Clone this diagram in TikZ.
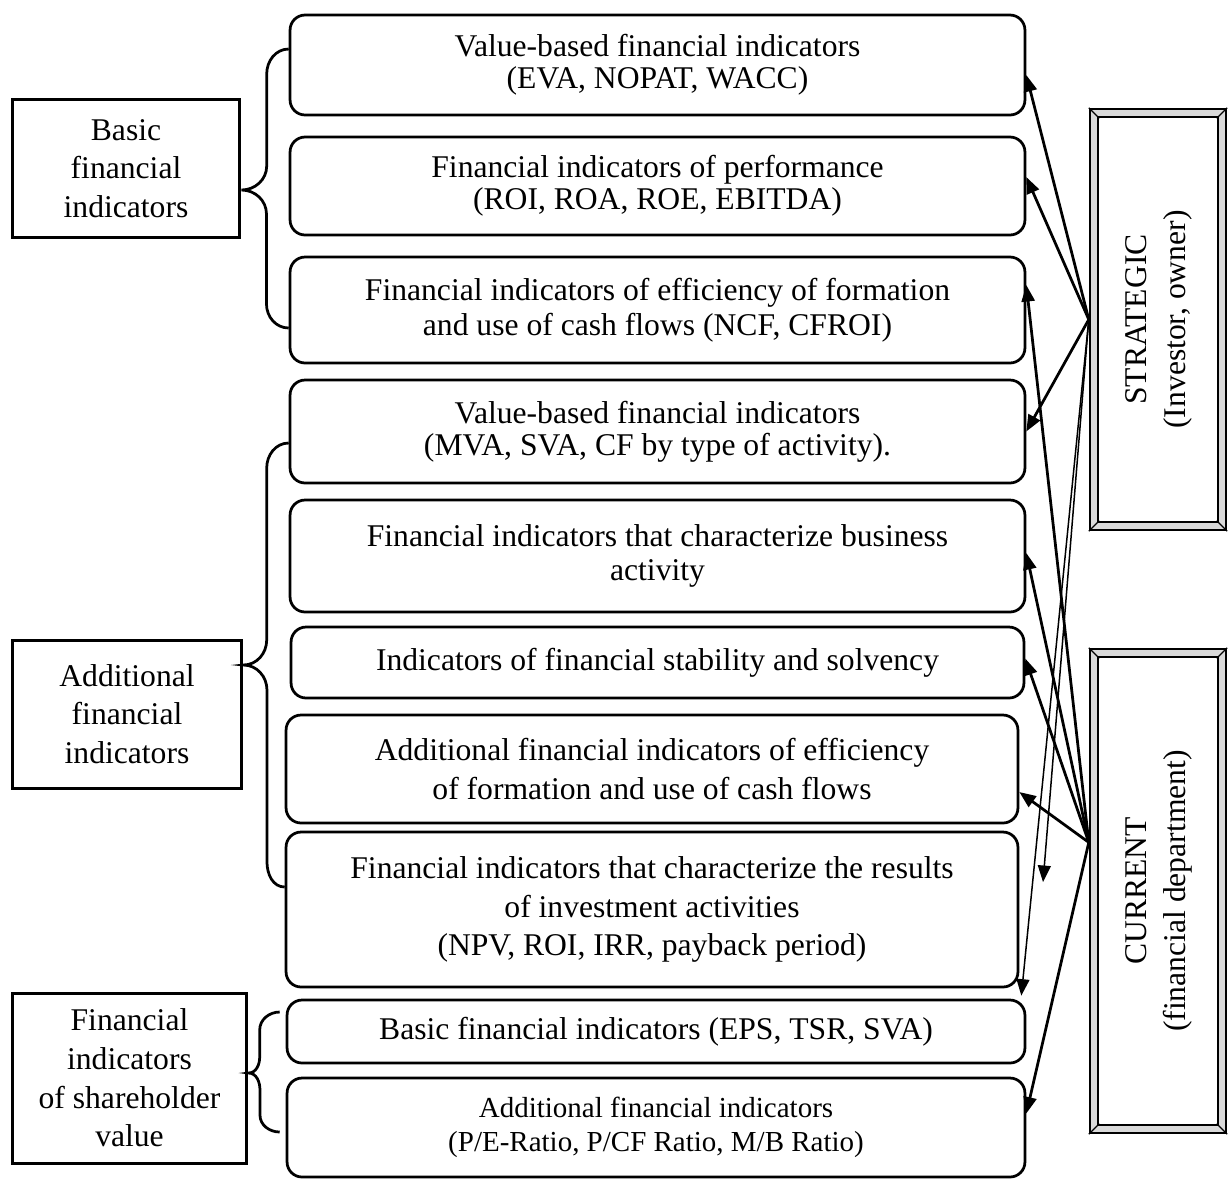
\documentclass[tikz,border=0pt]{standalone}
\usepackage{fontspec}
\setmainfont{Liberation Serif}
\usepackage{tikz}
\usetikzlibrary{arrows.meta,positioning,calc}

\begin{document}
\begin{tikzpicture}[
  x=0.02cm, y=-0.02cm,
  ind/.style={draw, line width=0.055cm, rectangle, rounded corners=0.3cm, align=center, font=\fontsize{18}{22}\selectfont},
  grp/.style={draw, line width=0.06cm, rectangle, align=center, font=\fontsize{18}{22}\selectfont},
  lvl/.style={draw, line width=0.05cm, double=gray!30, double distance=0.11cm, rectangle, minimum width=2.56cm, outer sep=0.105cm, font=\fontsize{18}{22}\selectfont},
  arr/.style={-{Triangle[length=0.33cm,width=0.26cm]}, line width=0.055cm},
  arrthin/.style={arr, line width=0.03cm},
  brc/.style={line width=0.055cm}
]

\useasboundingbox (0,0) rectangle (1229,1178);

\node[grp, minimum width=4.56cm, minimum height=2.78cm] (basic) at (126,168.5) {Basic\\financial\\indicators};

\node[grp, minimum width=4.6cm, minimum height=2.96cm] (addl) at (127,714) {Additional\\financial\\indicators};

\node[grp, minimum width=4.7cm, minimum height=3.4cm] (share) at (129.5,1078) {Financial\\indicators\\of shareholder\\value};

\node[ind, minimum width=14.7cm, minimum height=2cm, font=\fontsize{18}{18}\selectfont] (v1) at (657.5,65) {Value-based financial indicators\\(EVA, NOPAT, WACC)};

\node[ind, minimum width=14.7cm, minimum height=1.96cm, font=\fontsize{18}{18}\selectfont] (v2) at (657.5,186) {Financial indicators of performance\\(ROI, ROA, ROE, EBITDA)};

\node[ind, minimum width=14.7cm, minimum height=2.12cm, font=\fontsize{18}{20}\selectfont] (v3) at (657.5,310) {Financial indicators of efficiency of formation\\and use of cash flows (NCF, CFROI)};

\node[ind, minimum width=14.7cm, minimum height=2.06cm, font=\fontsize{18}{18}\selectfont] (v4) at (657.5,431.5) {Value-based financial indicators\\(MVA, SVA, CF by type of activity).};

\node[ind, minimum width=14.7cm, minimum height=2.24cm, font=\fontsize{18}{19}\selectfont] (v5) at (657.5,556) {Financial indicators that characterize business\\activity};

\node[ind, minimum width=14.66cm, minimum height=1.42cm] (v6) at (657.5,662.5) {Indicators of financial stability and solvency};

\node[ind, minimum width=14.64cm, minimum height=2.16cm] (v7) at (652,769) {Additional financial indicators of efficiency\\of formation and use of cash flows};

\node[ind, minimum width=14.64cm, minimum height=3.1cm] (v8) at (652,909.5) {Financial indicators that characterize the results\\of investment activities\\(NPV, ROI, IRR, payback period)};

\node[ind, minimum width=14.76cm, minimum height=1.26cm] (v9) at (656,1031.5) {Basic financial indicators (EPS, TSR, SVA)};

\node[ind, minimum width=14.76cm, minimum height=1.98cm, font=\fontsize{16.5}{19.5}\selectfont] (v10) at (656,1127.5) {Additional financial indicators\\(P/E-Ratio, P/CF Ratio, M/B Ratio)};

\node[lvl, minimum height=8.26cm] (strat) at (1158,319.5) {\rotatebox{90}{\begin{tabular}{@{}c@{}}STRATEGIC\\(Investor, owner)\end{tabular}}};

\node[lvl, minimum height=9.52cm] (curr) at (1158,891) {\rotatebox{90}{\begin{tabular}{@{}c@{}}CURRENT\\(financial department)\end{tabular}}};

\foreach \c/\sx/\sy in {north west/1/1, north east/-1/1, south west/1/-1, south east/-1/-1} {
  \draw[line width=0.025cm] (strat.\c) -- ++(10.5*\sx,10.5*\sy);
  \draw[line width=0.025cm] (curr.\c) -- ++(10.5*\sx,10.5*\sy);
}

\coordinate (chub) at ($(curr.north west)!0.4!(curr.south west)$);
\coordinate (loose) at (1043,882);

\draw[brc] ($(v1.west)+(0,-16)$) to[out=180,in=90] ++(-22,25) -- ++(0,92) to[out=-90,in=0] ($(basic.east)+(0,21.5)$) to[out=0,in=90] ++(25,24) -- ++(0,90) to[out=-90,in=180] ($(v3.west)+(0,18)$);

\draw[brc] ($(v4.west)+(0,11.5)$) to[out=180,in=90] ++(-22,25) -- ++(0,172) to[out=-90,in=0] ($(addl.east)+(0,-49)$) to[out=0,in=90] ++(23.5,25) -- ++(0,172) to[out=-90,in=180] ($(v8.west)+(0,-22.5)$);

\draw[brc] ($(v9.west)+(-6,-19.5)$) to[out=180,in=90] ++(-20,18) -- ++(0,27) to[out=-90,in=0] ($(share.east)+(0,-5)$) to[out=0,in=90] ++(11.5,17) -- ++(0,25) to[out=-90,in=180] ($(v10.west)+(-6,4.5)$);

\draw[arr] (strat.west) -- ($(v1.east)+(0,10)$);
\draw[arr] (strat.west) -- ($(v2.east)+(0,-9)$);
\draw[arr] (strat.west) -- (v4.east);
\draw[arrthin] (strat.west) -- (loose);
\draw[arrthin] (strat.west) -- ($(v9.north east)+(-5,-3)$);

\draw[arr] (chub) -- ($(v3.east)+(0,-25)$);
\draw[arr] (chub) -- ($(v5.east)+(0,-3)$);
\draw[arr] (chub) -- ($(v6.east)+(0,-4)$);
\draw[arr] (chub) -- ($(v7.east)+(0,23)$);
\draw[arr] (chub) -- ($(v10.east)+(0,-14)$);

\end{tikzpicture}
\end{document}
